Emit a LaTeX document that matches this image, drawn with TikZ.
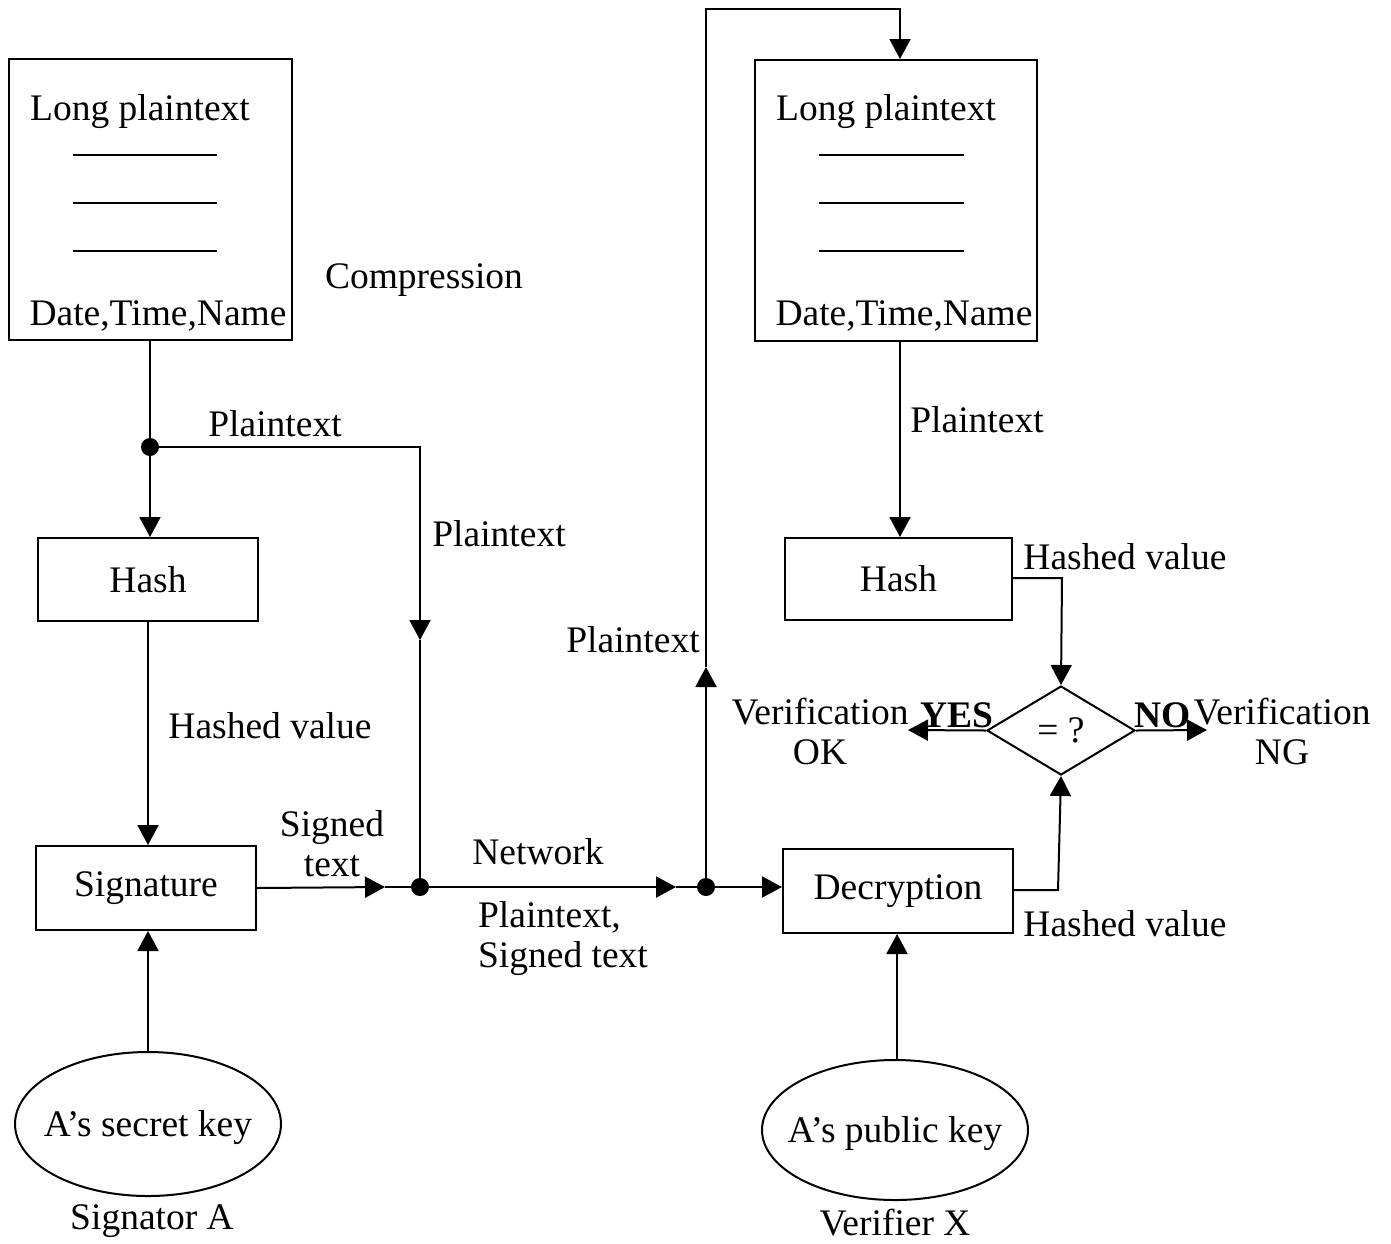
\documentclass[tikz,border=0pt]{standalone}
\usepackage{fontspec}
\setmainfont{Liberation Serif}
\usetikzlibrary{arrows.meta,shapes.geometric}
\begin{document}
\begin{tikzpicture}[x=0.5pt,y=-0.5pt,
  every node/.style={font=\fontsize{18.75}{20}\selectfont},
  box/.style={draw, line width=1pt, inner sep=0pt},
  lbl/.style={inner sep=0pt, align=center, yshift=-2pt},
  conn/.style={line width=1pt},
  arr/.style={line width=1pt,-{Triangle[length=10pt,width=10.5pt]}},
  junction/.style={circle, fill, inner sep=0pt, minimum size=9pt}]
\useasboundingbox (0,0) rectangle (1391,1243);

% documents
\node[box, minimum width=141.5pt, minimum height=140.5pt] (doc1) at (150,199.5) {};
\node[lbl] (doc1t) at (140,108) {Long plaintext};
\node[lbl] (doc1b) at (158,312) {Date,Time,Name};
\foreach \yy in {155,203,251} \draw[line width=1pt] (73,\yy) -- (217,\yy);

\node[box, minimum width=141pt, minimum height=140.5pt] (doc2) at (896,200.5) {};
\node[lbl] (doc2t) at (886,108) {Long plaintext};
\node[lbl] (doc2b) at (904,312) {Date,Time,Name};
\foreach \yy in {155,203,251} \draw[line width=1pt] (819,\yy) -- (964,\yy);

% boxes
\node[box, minimum width=110pt, minimum height=41.5pt] (hash1) at (148,579.5) {\raisebox{-2pt}{Hash}};
\node[box, minimum width=110pt, minimum height=42pt] (sig) at (146,888) {\raisebox{-2pt}{Signature}};
\node[box, minimum width=113.5pt, minimum height=41pt] (hash2) at (898.5,579) {\raisebox{-2pt}{Hash}};
\node[box, minimum width=115pt, minimum height=42pt] (dec) at (898,891) {\raisebox{-2pt}{Decryption}};
\node[draw, line width=1pt, shape=diamond, inner sep=0pt, aspect=1.66,
      minimum width=74pt, minimum height=44.5pt] (eq) at (1061,730.5) {\raisebox{-2pt}{= ?}};

% keys (ellipses)
\node[lbl] (key1) at (148,1124) {A’s secret key};
\draw[line width=1pt] (148,1124) ellipse [x radius=133, y radius=72];
\coordinate (key1top) at (148,1052);
\node[lbl] (key2) at (895,1130) {A’s public key};
\draw[line width=1pt] (895,1130) ellipse [x radius=133, y radius=70];
\coordinate (key2top) at (897,1060);

% junctions and corners
\node[junction] (j1) at (150,447) {};
\node[junction] (j2) at (420,887) {};
\node[junction] (j3) at (706,887) {};
\coordinate (c1) at (420,447);
\coordinate (c2) at (420,640);
\coordinate (c3) at (385,887);
\coordinate (c4) at (676,887);
\coordinate (c5) at (706,667);
\coordinate (c6) at (706,9);
\coordinate (c7) at (900,9);
\coordinate (c8) at (1062,578);
\coordinate (c9) at (1058,890);
\coordinate (okend) at (908,730);
\coordinate (ngend) at (1207,730);

% connectors
\draw[conn] (doc1.south -| j1) -- (j1);
\draw[arr] (j1) -- (j1 |- hash1.north);
\draw[arr] (j1) -- (c1) -- (c2);
\draw[conn] (c2) -- (j2);
\draw[arr] (hash1.south) -- (hash1.south |- sig.north);
\draw[arr] (sig.east) -- (c3);
\draw[conn] (c3) -- (j2);
\draw[arr] (j2) -- (c4);
\draw[conn] (c4) -- (j3);
\draw[arr] (j3) -- (j3 -| dec.west);
\draw[arr] (j3) -- (c5);
\draw[arr] (c5) -- (c6) -- (c7) -- (c7 |- doc2.north);
\draw[arr] (doc2.south -| c7) -- (c7 |- hash2.north);
\draw[arr] (hash2.east |- c8) -- (c8) -- (eq.north);
\draw[arr] (dec.east |- c9) -- (c9) -- (eq.south);
\draw[arr] (eq.west) -- (okend);
\draw[arr] (eq.east) -- (ngend);
\draw[arr] (key1top) -- (key1top |- sig.south);
\draw[arr] (key2top) -- (key2top |- dec.south);

% labels
\node[lbl] (lcomp) at (424,276) {Compression};
\node[lbl] (lpt1) at (275,420) {Plaintext};
\node[lbl] (lpt2) at (499,530) {Plaintext};
\node[lbl] (lhv1) at (270,722) {Hashed value};
\node[lbl] (lst) at (332,840) {Signed\\text};
\node[lbl] (lnet) at (538,848) {Network};
\node[lbl, align=left] (lpst) at (563,935) {Plaintext,\\Signed text};
\node[lbl] (lpt3) at (633,636) {Plaintext};
\node[lbl] (lpt4) at (977,416) {Plaintext};
\node[lbl] (lhv2) at (1125,553) {Hashed value};
\node[lbl] (lhv3) at (1125,920) {Hashed value};
\node[lbl] (lok) at (820,727) {Verification\\OK};
\node[lbl] (lng) at (1282,727) {Verification\\NG};
\node[lbl, font=\fontsize{18.75}{20}\selectfont\bfseries] (lyes) at (957,711) {YES};
\node[lbl, font=\fontsize{18.75}{20}\selectfont\bfseries] (lno) at (1163,711) {NO};
\node[lbl] (lsa) at (152,1217) {Signator A};
\node[lbl] (lvx) at (895,1219) {Verifier X};
\end{tikzpicture}
\end{document}
